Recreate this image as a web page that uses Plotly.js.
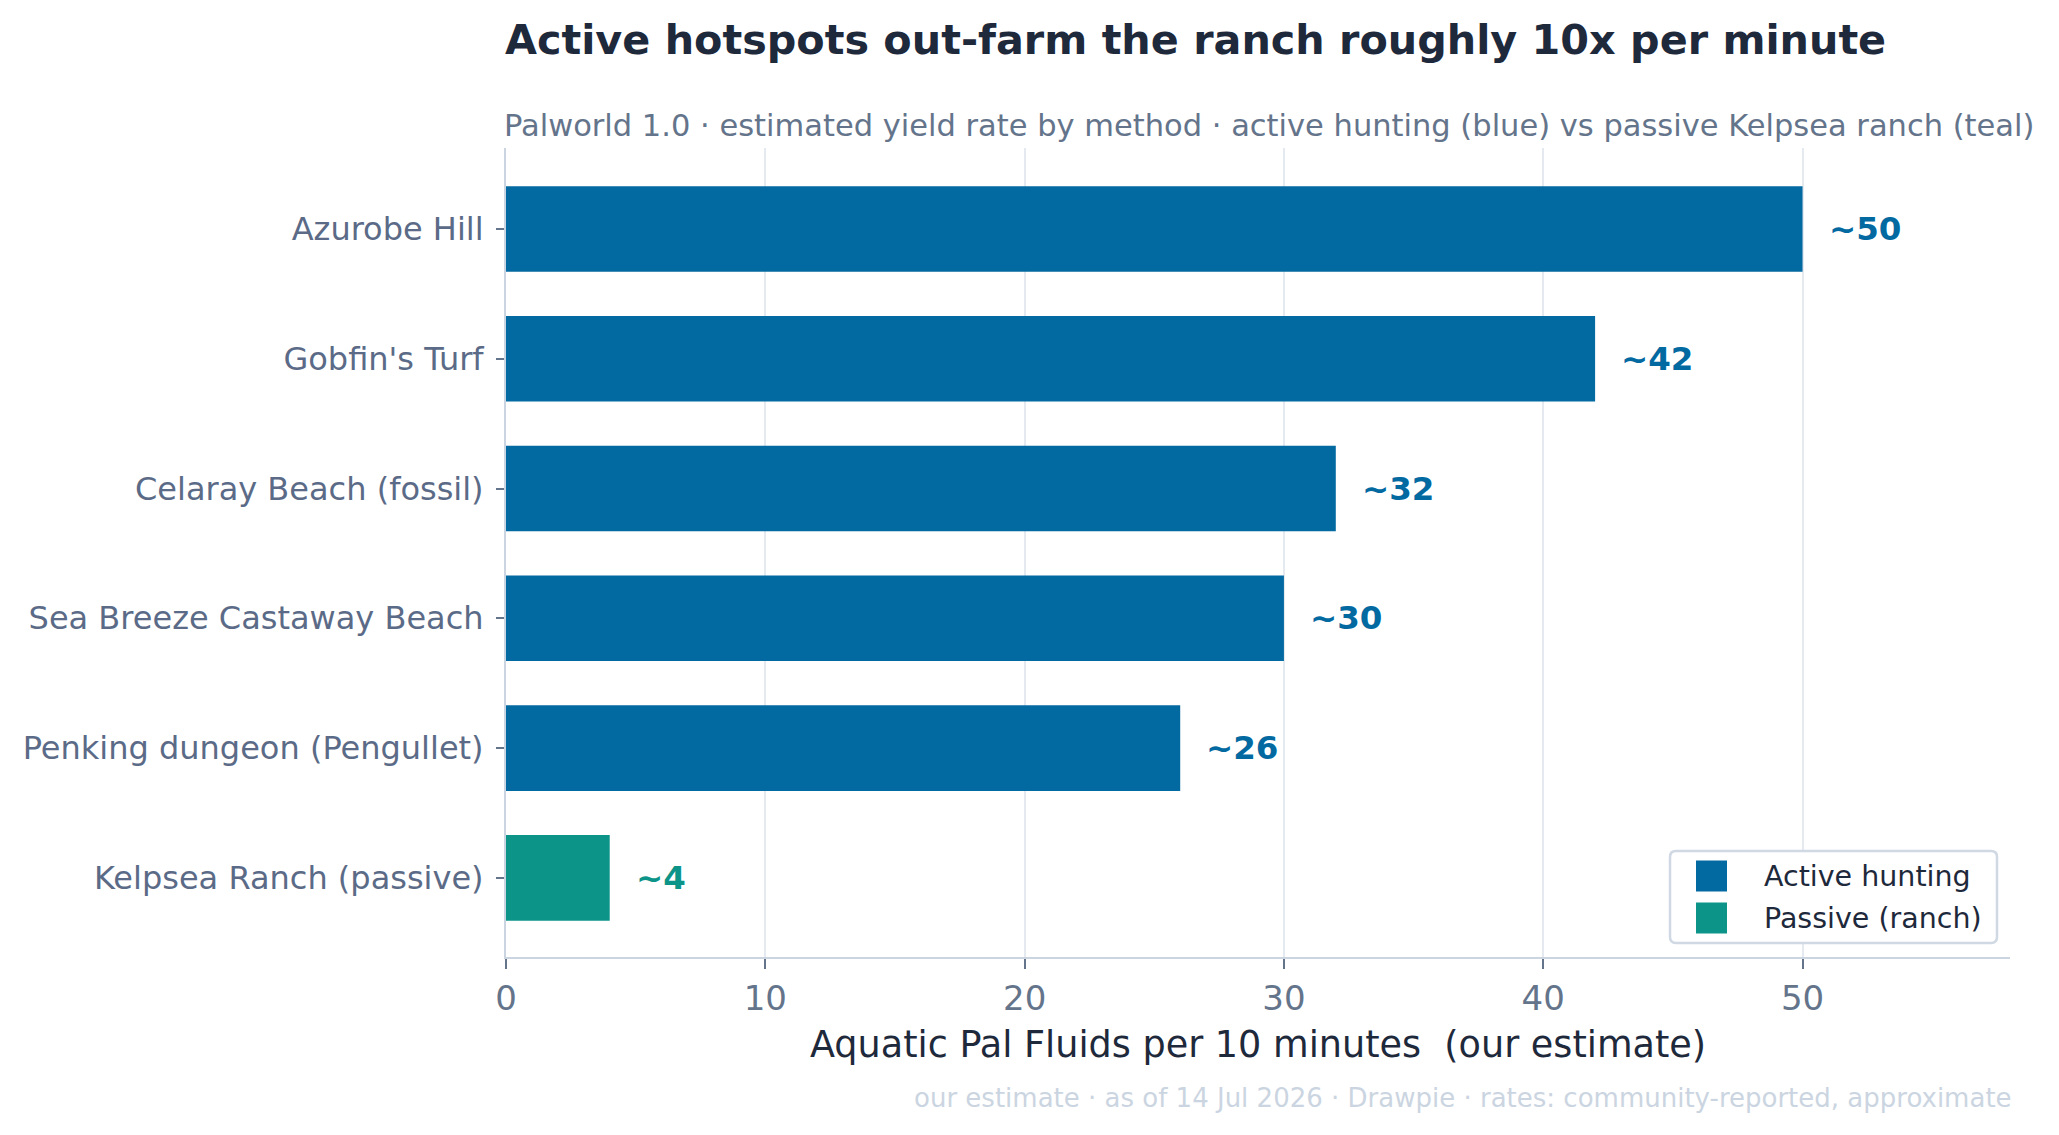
<!DOCTYPE html>
<html>
<head>
<meta charset="utf-8">
<script src="https://cdn.plot.ly/plotly-3.0.1.min.js"></script>
<style>
  html, body { margin: 0; padding: 0; background: #ffffff; }
  #chart { width: 2059px; height: 1135px; }
</style>
</head>
<body>
<div id="chart"></div>
<script>
// ---- data ----
const activeLocations = ["Azurobe Hill", "Gobfin's Turf", "Celaray Beach (fossil)", "Sea Breeze Castaway Beach", "Penking dungeon (Pengullet)"];
const activeValues = [50, 42, 32, 30, 26];
const passiveLocations = ["Kelpsea Ranch (passive)"];
const passiveValues = [4];
const valueLabels = ["~50", "~42", "~32", "~30", "~26", "~4"];
const seriesNames = ["Active hunting", "Passive (ranch)"];
const xTicks = [0, 10, 20, 30, 40, 50];

const BLUE = "#0369a1";
const TEAL = "#0d9488";
const FONT = "DejaVu Sans, sans-serif";
const seriesColors = [BLUE, TEAL];

const categories = activeLocations.concat(passiveLocations);

// plot-area geometry (pixels)
const W = 2059, H = 1135;
const M = { l: 506, r: 49, t: 148, b: 178 };
const PW = W - M.l - M.r, PH = H - M.t - M.b;
const px2x = p => (p - M.l) / PW;          // pixel x -> paper x
const px2y = p => (H - M.b - p) / PH;      // pixel y -> paper y

const traces = [
  {
    type: "bar", orientation: "h",
    name: seriesNames[0],
    y: activeLocations, x: activeValues,
    marker: { color: BLUE, line: { width: 0 } },
    width: 0.66, showlegend: false,
    hoverinfo: "x+y"
  },
  {
    type: "bar", orientation: "h",
    name: seriesNames[1],
    y: passiveLocations, x: passiveValues,
    marker: { color: TEAL, line: { width: 0 } },
    width: 0.66, showlegend: false,
    hoverinfo: "x+y"
  }
];

const allValues = activeValues.concat(passiveValues);
const annotations = categories.map((c, i) => ({
  x: allValues[i], y: c, xref: "x", yref: "y",
  text: "<b>" + valueLabels[i] + "</b>",
  showarrow: false, xanchor: "left", yanchor: "middle", xshift: 24,
  font: { family: FONT, size: 32.5, color: i < activeValues.length ? BLUE : TEAL }
}));

annotations.push({
  text: "Palworld 1.0 · estimated yield rate by method · active hunting (blue) vs passive Kelpsea ranch (teal)",
  xref: "paper", yref: "paper", x: 0, y: px2y(125), xanchor: "left", yanchor: "middle",
  xshift: -3, borderpad: 0,
  showarrow: false, font: { family: FONT, size: 30.5, color: "#64748b" }
});
annotations.push({
  text: "our estimate · as of 14 Jul 2026 · Drawpie · rates: community-reported, approximate",
  xref: "paper", yref: "paper", x: 1, y: px2y(1098), xanchor: "right", yanchor: "middle",
  xshift: 3, borderpad: 0,
  showarrow: false, font: { family: FONT, size: 26, color: "#cbd5e1" }
});

// ---- legend (drawn with shapes + text so the swatches match the reference size) ----
const legBox = { x0: 1670, x1: 1997, y0: 851, y1: 943 };
const rowCenters = [876, 918];
const shapes = [];
{
  const r = 6;
  const X = px2x, Y = px2y;
  const b = legBox;
  const path =
    `M${X(b.x0 + r)},${Y(b.y0)} L${X(b.x1 - r)},${Y(b.y0)} Q${X(b.x1)},${Y(b.y0)} ${X(b.x1)},${Y(b.y0 + r)} ` +
    `L${X(b.x1)},${Y(b.y1 - r)} Q${X(b.x1)},${Y(b.y1)} ${X(b.x1 - r)},${Y(b.y1)} ` +
    `L${X(b.x0 + r)},${Y(b.y1)} Q${X(b.x0)},${Y(b.y1)} ${X(b.x0)},${Y(b.y1 - r)} ` +
    `L${X(b.x0)},${Y(b.y0 + r)} Q${X(b.x0)},${Y(b.y0)} ${X(b.x0 + r)},${Y(b.y0)} Z`;
  shapes.push({
    type: "path", xref: "paper", yref: "paper", path: path,
    fillcolor: "#ffffff", line: { color: "#cfd8e3", width: 2.5 }, layer: "above"
  });
  seriesNames.forEach((name, i) => {
    const cy = rowCenters[i];
    shapes.push({
      type: "rect", xref: "paper", yref: "paper",
      x0: px2x(1696), x1: px2x(1727), y0: px2y(cy - 15.5), y1: px2y(cy + 15.5),
      fillcolor: seriesColors[i], line: { width: 0 }, layer: "above"
    });
    annotations.push({
      text: name, xref: "paper", yref: "paper", x: px2x(1763), y: px2y(cy),
      xanchor: "left", yanchor: "middle", showarrow: false, borderpad: 0,
      font: { family: FONT, size: 28.5, color: "#1e293b" }
    });
  });
}

const layout = {
  width: W, height: H,
  paper_bgcolor: "#ffffff", plot_bgcolor: "#ffffff",
  margin: M,
  font: { family: FONT, color: "#64748b" },
  title: {
    text: "<b>Active hotspots out-farm the ranch roughly 10x per minute</b>",
    x: 505 / W, xanchor: "left", xref: "container",
    y: 1 - 40 / H, yanchor: "middle", yref: "container",
    font: { family: FONT, size: 41.3, color: "#1e293b" }
  },
  barmode: "overlay",
  showlegend: false,
  xaxis: {
    range: [0, 58],
    tickvals: xTicks,
    ticktext: xTicks.map(String),
    showgrid: true, gridcolor: "#e5e9f0", gridwidth: 2,
    zeroline: false,
    showline: true, linecolor: "#cbd5e1", linewidth: 2,
    ticks: "outside", ticklen: 10, tickwidth: 2, tickcolor: "#64748b",
    tickfont: { family: FONT, size: 34, color: "#64748b" },
    title: {
      text: "Aquatic Pal Fluids per 10 minutes  (our estimate)",
      font: { family: FONT, size: 36.6, color: "#1e293b" },
      standoff: 15
    },
    fixedrange: true
  },
  yaxis: {
    type: "category",
    categoryorder: "array", categoryarray: categories,
    range: [5.61, -0.624],
    showgrid: false, zeroline: false,
    showline: true, linecolor: "#cbd5e1", linewidth: 2,
    ticks: "outside", ticklen: 8, tickwidth: 2, tickcolor: "#64748b",
    tickfont: { family: FONT, size: 32, color: "#5b6b87" },
    ticklabelstandoff: 6,
    fixedrange: true
  },
  shapes: shapes,
  annotations: annotations
};

Plotly.newPlot("chart", traces, layout, { displayModeBar: false, staticPlot: true });
</script>
</body>
</html>
